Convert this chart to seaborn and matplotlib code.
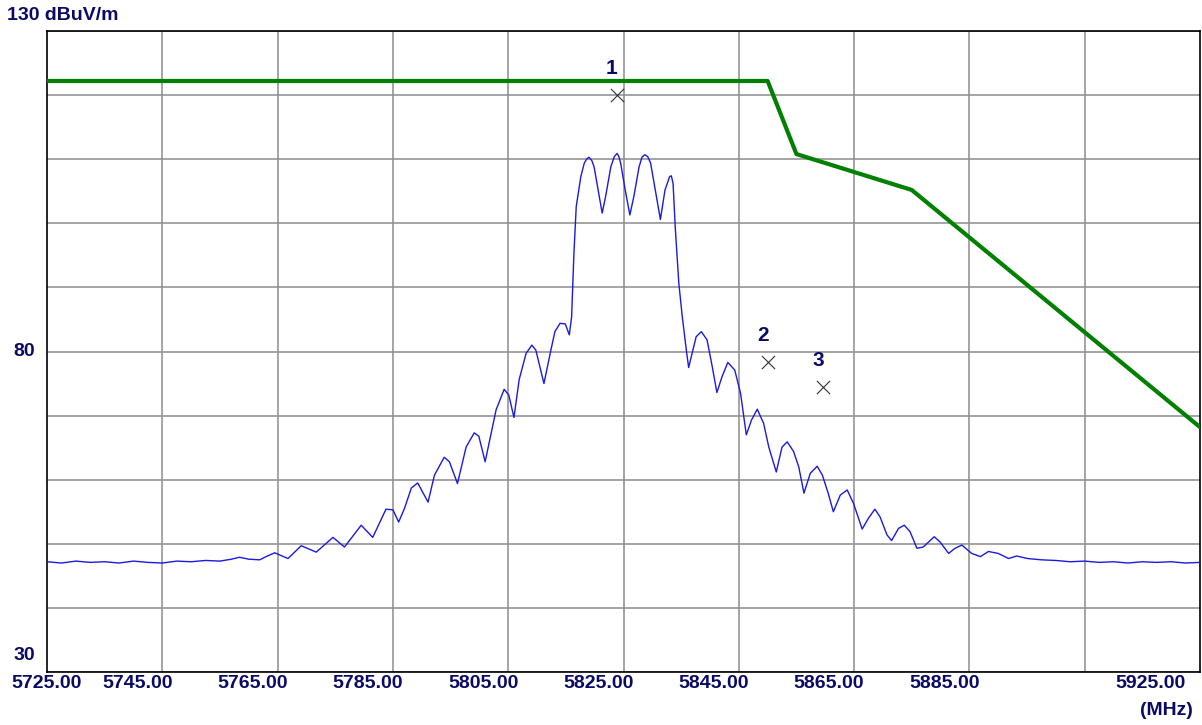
import numpy as np
import pandas as pd
import matplotlib
matplotlib.use('Agg')
import matplotlib.pyplot as plt
import matplotlib.transforms as mtrans
from matplotlib.ticker import FixedLocator, MultipleLocator
import seaborn as sns

# ─── Data ────────────────────────────────────────────────
freq_mhz = [
    5725.0, 5727.5, 5730.0, 5732.5, 5735.0, 5737.5, 5740.0, 5742.5, 5745.0, 5747.5,
    5750.0, 5752.5, 5755.0, 5757.0, 5758.4, 5760.0, 5761.9, 5763.0, 5764.5, 5766.8,
    5769.1, 5771.7, 5774.6, 5776.6, 5779.5, 5781.5, 5783.8, 5785.0, 5786.0, 5787.0,
    5788.2, 5789.3, 5791.1, 5792.2, 5793.9, 5794.8, 5796.2, 5797.7, 5799.1, 5799.9,
    5801.0, 5802.9, 5804.3, 5805.1, 5806.0, 5806.9, 5808.1, 5809.1, 5809.8, 5811.2,
    5812.4, 5813.1, 5814.0, 5814.9, 5815.6, 5816.0, 5816.4, 5816.8, 5817.6, 5818.2,
    5818.6, 5819.0, 5819.5, 5819.9, 5820.8, 5821.3, 5821.9, 5822.8, 5823.4, 5823.9,
    5824.2, 5824.5, 5825.3, 5826.1, 5826.8, 5827.7, 5828.2, 5828.7, 5829.2, 5829.7,
    5830.6, 5831.4, 5832.2, 5833.0, 5833.3, 5833.6,
    5834.0, 5834.6, 5835.2, 5835.9, 5836.3, 5836.9, 5837.6, 5838.5, 5839.5, 5840.4,
    5841.2, 5842.1, 5843.1, 5844.3, 5845.3, 5846.3, 5847.2, 5848.2, 5849.3, 5850.2,
    5851.5, 5852.5, 5853.4, 5854.5, 5855.4, 5856.3, 5857.4, 5858.6, 5859.5, 5860.5,
    5861.4, 5862.6, 5863.8, 5864.9, 5866.4, 5867.5, 5868.6, 5869.5, 5870.7, 5871.5,
    5872.7, 5873.7, 5874.7, 5875.9, 5877.0, 5878.9, 5879.9, 5881.4, 5882.5, 5883.7,
    5885.4, 5886.9, 5888.3, 5890.0, 5891.8, 5893.2, 5895.1, 5897.5, 5900.0, 5902.5,
    5905.0, 5907.5, 5910.0, 5912.5, 5915.0, 5917.5, 5920.0, 5922.5, 5925.0,
]
level_dbuv = [
    47.2, 47.0, 47.3, 47.1, 47.2, 47.0, 47.3, 47.1, 47.0, 47.3,
    47.2, 47.4, 47.3, 47.6, 47.9, 47.6, 47.5, 48.0, 48.6, 47.7,
    49.7, 48.7, 51.0, 49.5, 52.9, 51.0, 55.4, 55.3, 53.4, 55.5,
    58.7, 59.5, 56.5, 60.7, 63.5, 62.8, 59.4, 65.1, 67.3, 66.8,
    62.8, 70.9, 74.1, 73.2, 69.7, 75.6, 79.7, 81.0, 80.2, 75.0,
    80.2, 83.1, 84.4, 84.3, 82.6, 85.4, 95.3, 102.6, 107.3, 109.4,
    110.0, 110.3, 109.8, 108.8, 104.2, 101.6, 104.2, 108.8, 110.4, 110.9,
    110.4, 109.4, 105.2, 101.3, 104.2, 108.8, 110.3, 110.7, 110.4, 109.4,
    104.7, 100.6, 105.2, 107.3, 107.4, 106.2,
    99.0, 90.6, 85.4, 80.2, 77.5, 79.7, 82.3, 83.1, 81.8, 77.6,
    73.6, 76.1, 78.3, 77.1, 73.5, 67.0, 69.3, 71.0, 68.8, 65.1,
    61.2, 65.1, 65.9, 64.4, 62.0, 57.9, 61.0, 62.1, 60.7, 57.9,
    55.0, 57.6, 58.4, 56.3, 52.3, 54.0, 55.4, 54.2, 51.4, 50.5,
    52.4, 52.9, 51.9, 49.3, 49.5, 51.1, 50.3, 48.5, 49.3, 49.8,
    48.5, 48.0, 48.8, 48.5, 47.7, 48.1, 47.7, 47.5, 47.4, 47.2,
    47.3, 47.1, 47.2, 47.0, 47.2, 47.1, 47.2, 47.0, 47.1,
]

limit_freq = [5725, 5850, 5855, 5875, 5925]
limit_level = [122.2, 122.2, 110.8, 105.2, 68.2]

marker_freq = [5823.8, 5850.0, 5859.6]
marker_level = [120.0, 78.4, 74.5]
marker_label = ['1', '2', '3']

grid_freq = [5745, 5765, 5785, 5805, 5825, 5845, 5865, 5885, 5905]

x_tick_vals = [5725, 5745, 5765, 5785, 5805, 5825, 5845, 5865, 5885, 5925]
x_tick_text = ['5725.00', '5745.00', '5765.00', '5785.00', '5805.00',
               '5825.00', '5845.00', '5865.00', '5885.00', '5925.00']
x_tick_shift_px = [0, -25, -25, -25, -25, -25, -25, -25, -25, -50]

trace = pd.DataFrame({'freq': freq_mhz, 'level': level_dbuv})
limit = pd.DataFrame({'freq': limit_freq, 'level': limit_level})
marks = pd.DataFrame({'freq': marker_freq, 'level': marker_level, 'lbl': marker_label})

# ─── Style ───────────────────────────────────────────────
sns.set_style('white')
plt.rcParams['font.family'] = ['Liberation Sans', 'DejaVu Sans']
TXT = '#0a0a66'

fig = plt.figure(figsize=(12.02, 7.25), dpi=100)
ax = fig.add_axes([47 / 1202, 53 / 725, 1153 / 1202, 641 / 725])

sns.lineplot(data=limit, x='freq', y='level', ax=ax, color='#008000',
             linewidth=3.0, zorder=3)
sns.lineplot(data=trace, x='freq', y='level', ax=ax, color='#1a1ae0',
             linewidth=1.0, zorder=4)
sns.scatterplot(data=marks, x='freq', y='level', ax=ax, marker='x', s=90,
                color='#333333', linewidth=0.8, zorder=5)
for _, r in marks.iterrows():
    ax.annotate(r['lbl'], (r['freq'], r['level']), xytext=(-3.5, 19),
                textcoords='offset points', ha='center', va='center',
                fontsize=15, fontweight='bold', color=TXT)

ax.set_xlim(5725, 5925)
ax.set_ylim(30, 130)
ax.xaxis.set_major_locator(FixedLocator(grid_freq))
ax.yaxis.set_major_locator(MultipleLocator(10))
ax.grid(True, color='#8c8c8c', linewidth=1.1)
ax.tick_params(labelbottom=False, labelleft=False, length=0)
ax.set_xlabel(''); ax.set_ylabel('')
for sp in ax.spines.values():
    sp.set_color('black'); sp.set_linewidth(1.2)

# ─── Axis labels as text ────────────────────────────────
bx = mtrans.blended_transform_factory(ax.transData, ax.transAxes)
for v, t, dx in zip(x_tick_vals, x_tick_text, x_tick_shift_px):
    tr = mtrans.offset_copy(bx, fig=fig, x=dx, units='dots')
    ax.text(v, -0.0172, t, transform=tr, ha='center', va='center',
            fontsize=14, fontweight='bold', color=TXT, clip_on=False)
ax.text(0.9705, -0.0593, '(MHz)', transform=ax.transAxes, ha='center',
        va='center', fontsize=14, fontweight='bold', color=TXT)

by = mtrans.blended_transform_factory(ax.transAxes, ax.transData)
ax.text(-12 / 1153, 80, '80', transform=by, ha='right', va='center',
        fontsize=14, fontweight='bold', color=TXT)
ax.text(-12 / 1153, 0.0265, '30', transform=ax.transAxes, ha='right',
        va='center', fontsize=14, fontweight='bold', color=TXT)
ax.text(-40 / 1153, 1 + 16 / 641, '130 dBuV/m', transform=ax.transAxes,
        ha='left', va='center', fontsize=14, fontweight='bold', color=TXT)

fig.savefig('out.png', dpi=100)
plt.close(fig)
